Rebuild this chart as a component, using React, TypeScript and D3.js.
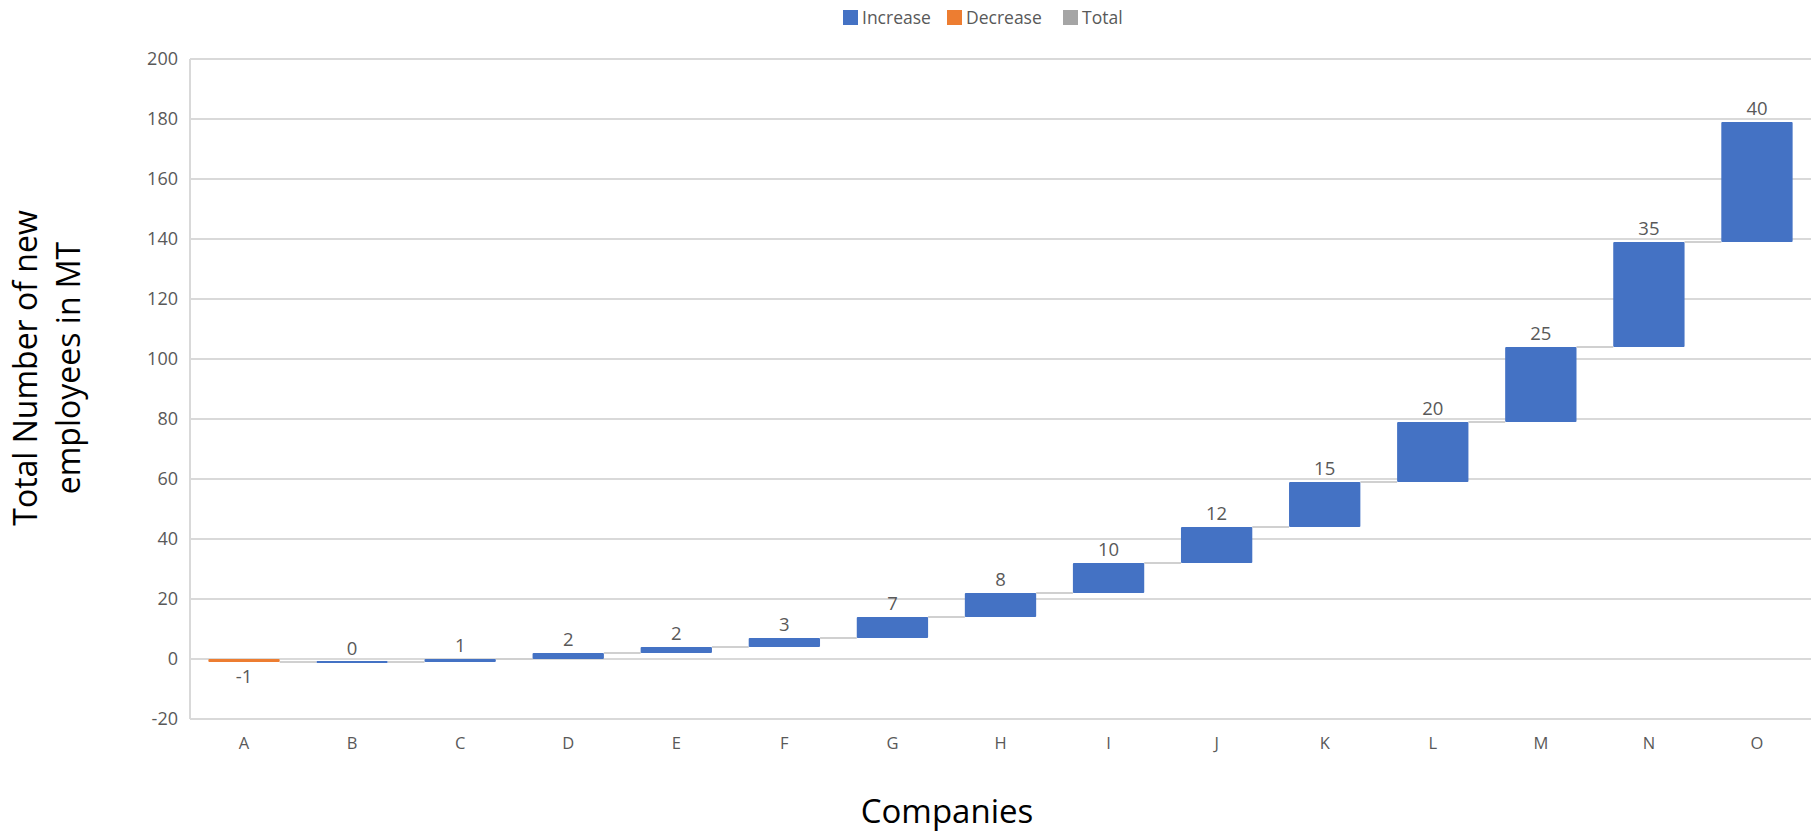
import React from "react";
import * as d3 from "d3";

// Waterfall of new employees per company
const companies = ["A", "B", "C", "D", "E", "F", "G", "H", "I", "J", "K", "L", "M", "N", "O"];
const changes = [-1, 0, 1, 2, 2, 3, 7, 8, 10, 12, 15, 20, 25, 35, 40];
const yTicks = [-20, 0, 20, 40, 60, 80, 100, 120, 140, 160, 180, 200];
const legendItems = [
  { label: "Increase", color: "#4472C4" },
  { label: "Decrease", color: "#ED7D31" },
  { label: "Total", color: "#A5A5A5" },
];

const W = 1811;
const H = 834;
const FONT = "'Open Sans', 'DejaVu Sans', sans-serif";

export default function App() {
  const x = d3
    .scaleBand<string>()
    .domain(companies)
    .range([190, 1811])
    .paddingInner(0.34)
    .paddingOuter(0.17);
  const y = d3.scaleLinear().domain([-20, 200]).range([719, 59]);

  // Each step starts where the previous one ended
  const ends = Array.from(d3.cumsum(changes));
  const steps = companies.map((c, i) => ({
    c,
    v: changes[i],
    start: i === 0 ? 0 : ends[i - 1],
    end: ends[i],
  }));

  const legendX = [843, 947, 1063];

  return (
    <svg
      width={W}
      height={H}
      style={{ position: "absolute", left: 0, top: 0, background: "#fff" }}
      fontFamily={FONT}
    >
      {/* legend */}
      {legendItems.map((it, i) => (
        <g key={it.label} transform={`translate(${legendX[i]},0)`}>
          <rect x={0} y={10} width={15} height={15} fill={it.color} />
          <text x={19} y={23.5} fontSize={17.5} fill="#595959">
            {it.label}
          </text>
        </g>
      ))}

      {/* gridlines */}
      {yTicks.map((t) => (
        <line
          key={t}
          x1={190}
          x2={W}
          y1={y(t)}
          y2={y(t)}
          stroke="#d9d9d9"
          strokeWidth={2}
        />
      ))}
      <line x1={190} x2={190} y1={y(200)} y2={y(-20)} stroke="#d9d9d9" strokeWidth={2} />

      {/* y tick labels */}
      {yTicks.map((t) => (
        <text
          key={t}
          x={178}
          y={y(t)}
          dy="0.35em"
          textAnchor="end"
          fontSize={18}
          fill="#595959"
        >
          {t}
        </text>
      ))}

      {/* connectors between steps */}
      {steps.slice(0, -1).map((s, i) => (
        <line
          key={s.c}
          x1={(x(s.c) as number) + x.bandwidth()}
          x2={x(companies[i + 1]) as number}
          y1={y(s.end)}
          y2={y(s.end)}
          stroke="#d0d0d0"
          strokeWidth={2}
        />
      ))}

      {/* bars */}
      {steps.map((s) => {
        const top = y(Math.max(s.start, s.end));
        const h = Math.max(2, Math.abs(y(s.start) - y(s.end)));
        const color = s.v < 0 ? "#ED7D31" : "#4472C4";
        return (
          <rect
            key={s.c}
            x={x(s.c)}
            y={s.v === 0 ? y(s.end) - 1 : top}
            width={x.bandwidth()}
            height={h}
            fill={color}
            rx={1}
          />
        );
      })}

      {/* value labels */}
      {steps.map((s) => {
        const cx = (x(s.c) as number) + x.bandwidth() / 2;
        const neg = s.v < 0;
        const yy = neg ? y(Math.min(s.start, s.end)) + 21 : y(Math.max(s.start, s.end)) - 7;
        return (
          <text key={s.c} x={cx} y={yy} textAnchor="middle" fontSize={18.5} fill="#595959">
            {s.v}
          </text>
        );
      })}

      {/* category labels */}
      {companies.map((c) => (
        <text
          key={c}
          x={(x(c) as number) + x.bandwidth() / 2}
          y={749}
          textAnchor="middle"
          fontSize={16.5}
          fill="#595959"
        >
          {c}
        </text>
      ))}

      {/* axis titles */}
      <text x={947} y={823} textAnchor="middle" fontSize={33} fill="#000">
        Companies
      </text>
      <text transform="translate(37,368) rotate(-90)" textAnchor="middle" fontSize={32} fill="#000">
        Total Number of new
      </text>
      <text transform="translate(80,368) rotate(-90)" textAnchor="middle" fontSize={32} fill="#000">
        employees in MT
      </text>
    </svg>
  );
}
